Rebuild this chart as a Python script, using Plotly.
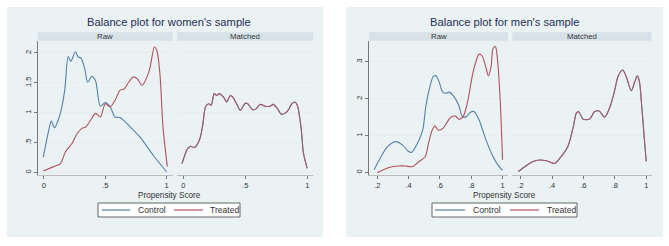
import plotly.graph_objects as go

# ---------------- data ----------------
# Women, raw sample
w_raw_ctrl_x = [-0.005, 0.04, 0.06, 0.087, 0.12, 0.14, 0.17, 0.198, 0.22, 0.257, 0.28, 0.30, 0.33, 0.357,
                0.39, 0.42, 0.46, 0.50, 0.54, 0.58, 0.62, 0.70, 0.78, 0.89, 1.0]
w_raw_ctrl_y = [0.26, 0.71, 0.86, 0.75, 0.90, 1.04, 1.38, 1.94, 1.86, 2.02, 1.93, 1.92, 1.76, 1.51,
                1.61, 1.54, 1.11, 1.17, 1.10, 0.93, 0.92, 0.77, 0.60, 0.29, 0.01]
w_raw_trt_x = [-0.005, 0.08, 0.135, 0.176, 0.23, 0.27, 0.31, 0.34, 0.38, 0.42, 0.46, 0.50, 0.54, 0.58,
               0.62, 0.655, 0.69, 0.73, 0.76, 0.80, 0.84, 0.865, 0.90, 0.92, 0.945, 0.97, 1.005]
w_raw_trt_y = [0.025, 0.10, 0.15, 0.35, 0.49, 0.65, 0.74, 0.76, 0.875, 0.99, 0.93, 1.15, 1.10, 1.21,
               1.375, 1.40, 1.51, 1.60, 1.57, 1.46, 1.60, 1.76, 2.10, 2.04, 1.65, 0.76, 0.10]
# Women, matched sample
w_mat_x = [-0.01, 0.035, 0.06, 0.09, 0.13, 0.157, 0.18, 0.205, 0.225, 0.25, 0.27, 0.29, 0.325, 0.35,
           0.38, 0.40, 0.43, 0.46, 0.50, 0.52, 0.56, 0.59, 0.62, 0.66, 0.70, 0.725, 0.76, 0.79,
           0.82, 0.845, 0.875, 0.90, 0.92, 0.95, 0.97, 1.0]
w_mat_ctrl_y = [0.15, 0.40, 0.44, 0.42, 0.54, 0.79, 1.10, 1.15, 1.125, 1.32, 1.29, 1.32, 1.26, 1.18,
                1.29, 1.26, 1.15, 1.04, 1.16, 1.15, 1.05, 1.07, 1.14, 1.11, 1.11, 1.14, 1.07, 0.975,
                0.99, 1.04, 1.15, 1.18, 1.125, 0.76, 0.32, 0.07]
w_mat_trt_y = [0.15, 0.40, 0.44, 0.42, 0.54, 0.79, 1.10, 1.15, 1.125, 1.32, 1.29, 1.32, 1.26, 1.18,
               1.29, 1.26, 1.15, 1.04, 1.16, 1.15, 1.05, 1.07, 1.14, 1.11, 1.11, 1.14, 1.07, 0.975,
               0.99, 1.04, 1.15, 1.18, 1.125, 0.76, 0.32, 0.07]

# Men, raw sample
m_raw_ctrl_x = [0.18, 0.22, 0.264, 0.32, 0.36, 0.40, 0.42, 0.456, 0.49, 0.51, 0.536, 0.557, 0.574,
                0.595, 0.617, 0.638, 0.66, 0.69, 0.72, 0.745, 0.767, 0.80, 0.82, 0.85, 0.895, 0.94,
                0.97, 1.0]
m_raw_ctrl_y = [0.08, 0.40, 0.70, 0.84, 0.75, 0.57, 0.55, 0.79, 1.15, 1.79, 2.33, 2.60, 2.63,
                2.46, 2.19, 2.15, 2.18, 2.06, 1.83, 1.51, 1.51, 1.65, 1.65, 1.43, 0.88, 0.43,
                0.21, 0.06]
m_raw_trt_x = [0.20, 0.275, 0.34, 0.38, 0.425, 0.467, 0.506, 0.527, 0.55, 0.568, 0.59, 0.62, 0.642,
               0.67, 0.70, 0.724, 0.75, 0.777, 0.81, 0.83, 0.85, 0.87, 0.895, 0.91, 0.927, 0.94,
               0.955, 0.967, 0.985, 1.0]
m_raw_trt_y = [0.0, 0.14, 0.18, 0.18, 0.16, 0.30, 0.43, 0.79, 1.14, 1.26, 1.15, 1.20, 1.34,
               1.50, 1.53, 1.44, 1.53, 1.92, 2.69, 3.01, 3.21, 3.16, 2.83, 2.62, 2.87, 3.37,
               3.41, 3.10, 1.97, 0.35]
# Men, matched sample
m_mat_x = [0.185, 0.227, 0.28, 0.32, 0.365, 0.418, 0.45, 0.50, 0.535, 0.555, 0.57, 0.597, 0.64,
           0.67, 0.70, 0.735, 0.77, 0.80, 0.82, 0.85, 0.873, 0.905, 0.927, 0.943, 0.957, 0.97,
           0.987, 1.0]
m_mat_ctrl_y = [0.03, 0.16, 0.30, 0.34, 0.32, 0.25, 0.39, 0.70, 1.23, 1.61, 1.65, 1.45, 1.45,
                1.65, 1.67, 1.50, 1.79, 2.24, 2.60, 2.78, 2.60, 2.22, 2.46, 2.62, 2.46, 1.88,
                0.97, 0.30]
m_mat_trt_y = [0.03, 0.16, 0.30, 0.34, 0.32, 0.25, 0.39, 0.70, 1.23, 1.61, 1.65, 1.45, 1.45,
               1.65, 1.67, 1.50, 1.79, 2.24, 2.60, 2.78, 2.60, 2.22, 2.46, 2.62, 2.46, 1.88,
               0.97, 0.30]

w_xticks = [0, 0.5, 1]
w_xtext = ["0", ".5", "1"]
w_yticks = [0, 0.5, 1, 1.5, 2]
w_ytext = ["0", ".5", "1", "1.5", "2"]
m_xticks = [0.2, 0.4, 0.6, 0.8, 1]
m_xtext = [".2", ".4", ".6", ".8", "1"]
m_yticks = [0, 1, 2, 3]
m_ytext = ["0", "1", "2", "3"]

titles = ["Balance plot for women's sample", "Balance plot for men's sample"]
strip_labels = ["Raw", "Matched", "Raw", "Matched"]
series_names = ["Control", "Treated"]

# ---------------- styling ----------------
W, H = 669, 246
BLUE = "#5480ae"
RED = "#b4505a"
PANEL_BG = "#eaf2f3"
STRIP_BG = "#d6e2e8"
GRID = "#e6edef"
TXT = "#333333"
FONT = "Liberation Sans, Arial, sans-serif"

def px_x(v):
    return v / W

def px_y(v):
    return 1 - v / H

xdoms = [(38, 172.7), (177.3, 313.3), (369, 508), (512.3, 651.7)]
ydom = [px_y(175), px_y(41)]

fig = go.Figure()

panels = [
    (w_raw_ctrl_x, w_raw_ctrl_y, w_raw_trt_x, w_raw_trt_y),
    (w_mat_x, w_mat_ctrl_y, w_mat_x, w_mat_trt_y),
    (m_raw_ctrl_x, m_raw_ctrl_y, m_raw_trt_x, m_raw_trt_y),
    (m_mat_x, m_mat_ctrl_y, m_mat_x, m_mat_trt_y),
]
for i, (cx, cy, tx, ty) in enumerate(panels):
    sfx = "" if i == 0 else str(i + 1)
    fig.add_trace(go.Scatter(x=cx, y=cy, mode="lines", name=series_names[0],
                             line=dict(color=BLUE, width=1.1, shape="spline", smoothing=0.8),
                             xaxis="x" + sfx, yaxis="y" + sfx, showlegend=False,
                             hoverinfo="skip"))
    fig.add_trace(go.Scatter(x=tx, y=ty, mode="lines", name=series_names[1],
                             line=dict(color=RED, width=1.1, shape="spline", smoothing=0.8),
                             xaxis="x" + sfx, yaxis="y" + sfx, showlegend=False,
                             hoverinfo="skip", opacity=0.85 if i in (1, 3) else 1))

layout = dict(
    width=W, height=H, autosize=False,
    margin=dict(l=0, r=0, t=0, b=0, pad=0),
    paper_bgcolor="white", plot_bgcolor="white",
    font=dict(family=FONT, size=7.5, color=TXT),
)

for i in range(4):
    sfx = "" if i == 0 else str(i + 1)
    women = i < 2
    left = i in (0, 2)
    layout["xaxis" + sfx] = dict(
        domain=[px_x(xdoms[i][0]), px_x(xdoms[i][1])],
        anchor="y" + sfx,
        range=[-0.048, 1.049] if women else [0.147, 1.035],
        tickvals=w_xticks if women else m_xticks,
        ticktext=w_xtext if women else m_xtext,
        ticks="outside", ticklen=3, tickwidth=1, tickcolor="#777",
        showline=True, linecolor="#bbbbbb", linewidth=1,
        showgrid=False, zeroline=False, fixedrange=True,
        tickfont=dict(size=7.5, color=TXT),
    )
    layout["yaxis" + sfx] = dict(
        domain=ydom,
        anchor="x" + sfx,
        range=[-0.04, 2.2] if women else [-0.065, 3.566],
        tickvals=w_yticks if women else m_yticks,
        ticktext=w_ytext if women else m_ytext,
        showticklabels=left,
        ticks="outside" if left else "", ticklen=3, tickwidth=1, tickcolor="#777",
        tickangle=-90,
        showline=left, linecolor="#777", linewidth=1,
        showgrid=True, gridcolor=GRID, gridwidth=1,
        zeroline=False, fixedrange=True,
        tickfont=dict(size=7.5, color=TXT),
    )

shapes = []
annotations = []
# panel backgrounds
for (x0, x1) in [(7, 323), (346, 663)]:
    shapes.append(dict(type="rect", xref="paper", yref="paper", layer="below",
                       x0=px_x(x0), x1=px_x(x1), y0=px_y(237), y1=px_y(7),
                       fillcolor=PANEL_BG, line=dict(width=0)))
# strips
for i, (x0, x1) in enumerate(xdoms):
    shapes.append(dict(type="rect", xref="paper", yref="paper", layer="below",
                       x0=px_x(x0), x1=px_x(x1), y0=px_y(40.7), y1=px_y(32.3),
                       fillcolor=STRIP_BG, line=dict(width=0)))
    annotations.append(dict(text=strip_labels[i], xref="paper", yref="paper",
                            x=px_x((x0 + x1) / 2), y=px_y(36.5), showarrow=False,
                            xanchor="center", yanchor="middle",
                            font=dict(size=7.8, color=TXT)))
# titles and x-axis titles
for cx, t in zip([169, 504.5], titles):
    annotations.append(dict(text=t, xref="paper", yref="paper", x=px_x(cx), y=px_y(22),
                            showarrow=False, xanchor="center", yanchor="middle",
                            font=dict(size=11.2, color="#1f2f55")))
    annotations.append(dict(text="Propensity Score", xref="paper", yref="paper",
                            x=px_x(cx), y=px_y(195), showarrow=False,
                            xanchor="center", yanchor="middle",
                            font=dict(size=8.2, color=TXT)))

# legends (box, line keys, labels)
legend_specs = [
    # box x0, x1, blue key, control text x, red key, treated text x
    (98, 240, (102, 130), 136, (174, 203), 208),
    (432, 577, (435, 465), 470.5, (510, 539), 544.5),
]
for bx0, bx1, bk, ctx, rk, ttx in legend_specs:
    shapes.append(dict(type="rect", xref="paper", yref="paper",
                       x0=px_x(bx0), x1=px_x(bx1), y0=px_y(217), y1=px_y(203),
                       fillcolor="white", line=dict(color="#666", width=1)))
    for (k0, k1), col, tx, name in [(bk, BLUE, ctx, series_names[0]),
                                    (rk, RED, ttx, series_names[1])]:
        shapes.append(dict(type="line", xref="paper", yref="paper",
                           x0=px_x(k0), x1=px_x(k1), y0=px_y(210), y1=px_y(210),
                           line=dict(color=col, width=1.2)))
        annotations.append(dict(text=name, xref="paper", yref="paper",
                                x=px_x(tx), y=px_y(210), showarrow=False,
                                xanchor="left", yanchor="middle",
                                font=dict(size=8.6, color=TXT)))

layout["shapes"] = shapes
layout["annotations"] = annotations

fig.update_layout(**layout)
fig.write_html("out.html",
               config={"displayModeBar": False, "staticPlot": True},
               post_script="document.body.style.margin='0';document.body.style.padding='0';")
